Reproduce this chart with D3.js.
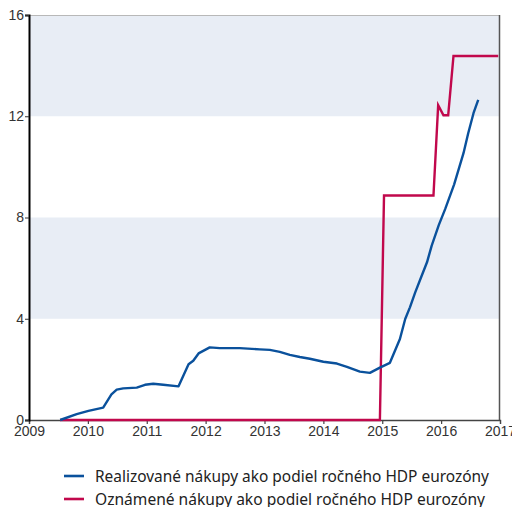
<!DOCTYPE html>
<html>
<head>
<meta charset="utf-8">
<script src="https://cdn.jsdelivr.net/npm/d3@7"></script>
<style>
  html, body { margin: 0; padding: 0; background: #fff; }
  svg { display: block; font-family: "Noto Sans", "Open Sans", sans-serif; }
</style>
</head>
<body>
<svg id="chart" width="512" height="507"></svg>
<script>
// Realized purchases (share of annual euro-area GDP, %), by decimal year
const realizedTime = [2009.53, 2009.81, 2010.01, 2010.26, 2010.40, 2010.49, 2010.60, 2010.83, 2010.97, 2011.11,
  2011.28, 2011.54, 2011.71, 2011.79, 2011.88, 2012.07, 2012.24, 2012.58, 2012.92, 2013.09,
  2013.26, 2013.43, 2013.60, 2013.77, 2014.00, 2014.23, 2014.40, 2014.62, 2014.79, 2014.96,
  2015.13, 2015.30, 2015.39, 2015.47, 2015.56, 2015.67, 2015.76, 2015.84, 2015.96, 2016.07,
  2016.22, 2016.38, 2016.46, 2016.55, 2016.63];
const realizedValue = [0.0, 0.23, 0.36, 0.49, 1.01, 1.2, 1.25, 1.28, 1.39, 1.43,
  1.39, 1.33, 2.2, 2.34, 2.63, 2.87, 2.84, 2.84, 2.79, 2.77,
  2.69, 2.57, 2.49, 2.42, 2.30, 2.23, 2.10, 1.91, 1.86, 2.07,
  2.26, 3.2, 3.99, 4.45, 5.04, 5.70, 6.23, 6.89, 7.7, 8.34,
  9.3, 10.54, 11.33, 12.12, 12.65];

// Announced purchases (share of annual euro-area GDP, %)
const announcedTime = [2009.53, 2014.96, 2015.03, 2015.87, 2015.95, 2016.04, 2016.12, 2016.21, 2016.97];
const announcedValue = [0, 0, 8.87, 8.87, 12.44, 12.04, 12.04, 14.38, 14.38];

const yearTicks = [2009, 2010, 2011, 2012, 2013, 2014, 2015, 2016, 2017];
const valueTicks = [0, 4, 8, 12, 16];
const bandRanges = [[4, 8], [12, 16]];

const seriesNames = [
  "Realizované nákupy ako podiel ročného HDP eurozóny",
  "Oznámené nákupy ako podiel ročného HDP eurozóny"
];
const seriesColors = ["#0a519c", "#c1084c"];

const svg = d3.select("#chart");
const plotLeft = 29, plotRight = 500, plotTop = 15, plotBottom = 420;

const x = d3.scaleLinear().domain([2009, 2017]).range([plotLeft, plotRight]);
const y = d3.scaleLinear().domain([0, 16]).range([plotBottom, plotTop]);

// shaded bands
svg.append("g").selectAll("rect").data(bandRanges).join("rect")
  .attr("x", plotLeft).attr("width", plotRight - plotLeft)
  .attr("y", d => y(d[1])).attr("height", d => y(d[0]) - y(d[1]))
  .attr("fill", "#e8edf5");

// frame: top and right borders
svg.append("line").attr("x1", plotLeft).attr("x2", plotRight).attr("y1", plotTop + 0.5).attr("y2", plotTop + 0.5)
  .attr("stroke", "#b8b8b8").attr("stroke-width", 1);
svg.append("line").attr("x1", plotRight - 0.5).attr("x2", plotRight - 0.5).attr("y1", plotTop).attr("y2", plotBottom)
  .attr("stroke", "#555").attr("stroke-width", 1.5);

// x axis
const xAxis = svg.append("g").attr("transform", `translate(0,${plotBottom})`)
  .call(d3.axisBottom(x).tickValues(yearTicks).tickFormat(d3.format("d")).tickSize(4).tickPadding(2));
xAxis.select(".domain").attr("stroke", "#444").attr("stroke-width", 1.3);
xAxis.selectAll(".tick line").attr("stroke", "#444").attr("stroke-width", 1.2);
xAxis.selectAll("text").attr("font-size", 14).attr("fill", "#333");

// y axis
const yAxis = svg.append("g").attr("transform", `translate(${plotLeft},0)`)
  .call(d3.axisLeft(y).tickValues(valueTicks).tickSize(4).tickPadding(1));
yAxis.select(".domain").attr("stroke", "#000").attr("stroke-width", 2);
yAxis.selectAll(".tick line").attr("stroke", "#333").attr("stroke-width", 1);
yAxis.selectAll("text").attr("font-size", 14).attr("fill", "#333");

// series lines
const line = d3.line().x(d => x(d[0])).y(d => y(d[1]));
const realized = d3.zip(realizedTime, realizedValue);
const announced = d3.zip(announcedTime, announcedValue);

svg.append("path").datum(announced).attr("d", line)
  .attr("fill", "none").attr("stroke", seriesColors[1]).attr("stroke-width", 2.4)
  .attr("stroke-linejoin", "miter");
svg.append("path").datum(realized).attr("d", line)
  .attr("fill", "none").attr("stroke", seriesColors[0]).attr("stroke-width", 2.4)
  .attr("stroke-linejoin", "round");

// legend
const legend = svg.append("g");
seriesNames.forEach((name, i) => {
  const ly = 476 + i * 23;
  legend.append("line").attr("x1", 64).attr("x2", 84).attr("y1", ly).attr("y2", ly)
    .attr("stroke", seriesColors[i]).attr("stroke-width", 2.6);
  legend.append("text").attr("x", 95).attr("y", ly + 5.5)
    .attr("font-size", 15.5).attr("fill", "#222")
    .attr("textLength", i === 0 ? 394 : 394 - 4).attr("lengthAdjust", "spacingAndGlyphs")
    .text(name);
});
</script>
</body>
</html>
